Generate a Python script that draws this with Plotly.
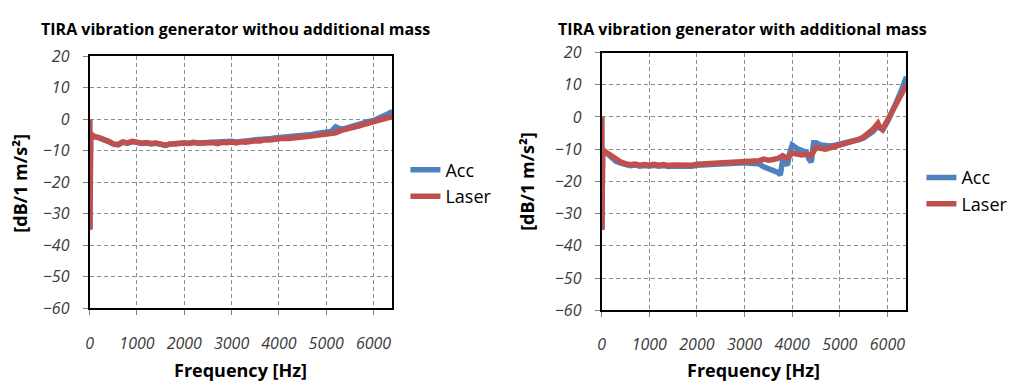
import plotly.graph_objects as go

# ---------------- data ----------------
left_acc_hz = [0, 5, 20, 50, 100, 200, 300, 400, 500, 600, 700, 800, 900, 1000, 1100, 1200, 1300, 1400, 1500,
               1600, 1700, 1800, 1900, 2000, 2100, 2200, 2300, 2400, 2500, 2600, 2700, 2800, 2900, 3000, 3100,
               3200, 3300, 3400, 3500, 3600, 3700, 3800, 3900, 4000, 4100, 4200, 4300, 4400, 4500, 4600, 4700,
               4800, 4900, 5000, 5100, 5200, 5300, 5400, 5500, 5600, 5700, 5800, 5900, 6000, 6100, 6200, 6300, 6400]
left_acc_db = [0, -35, -6, -5, -5.5, -5.9, -6.3, -7.1, -7.9, -8.1, -7.3, -7.6, -7.1, -7.4, -7.7, -7.5, -7.8,
               -7.6, -8.1, -8.3, -7.9, -7.7, -7.8, -7.5, -7.6, -7.3, -7.5, -7.4, -7.4, -7.2, -7.5, -7.1, -7.2,
               -7.0, -7.2, -6.9, -7.0, -6.7, -6.5, -6.5, -6.2, -6.2, -5.9, -5.8, -5.6, -5.6, -5.3, -5.4, -5.1,
               -5.0, -4.8, -4.5, -4.4, -4.1, -3.9, -2.4, -3.1, -2.9, -2.4, -2.1, -1.6, -1.1, -0.7, -0.4, 0.2,
               0.8, 1.7, 2.5]
left_laser_hz = list(left_acc_hz)
left_laser_db = [0, -35, -6, -5, -5.5, -5.8, -6.2, -7.0, -7.8, -8.0, -7.2, -7.5, -7.0, -7.3, -7.6, -7.4, -7.7,
                 -7.5, -7.9, -8.2, -7.8, -7.6, -7.8, -7.5, -7.7, -7.4, -7.6, -7.5, -7.6, -7.4, -7.7, -7.3, -7.4,
                 -7.2, -7.5, -7.1, -7.3, -7.0, -6.8, -6.9, -6.5, -6.6, -6.3, -6.2, -6.0, -6.1, -5.8, -5.9, -5.6,
                 -5.5, -5.3, -5.0, -4.9, -4.6, -4.5, -4.3, -3.6, -3.3, -2.9, -2.6, -2.1, -1.6, -1.2, -1.0, -0.5,
                 -0.1, 0.4, 0.9]

right_acc_hz = [0, 5, 20, 50, 100, 200, 300, 400, 500, 600, 700, 800, 900, 1000, 1100, 1200, 1300, 1400, 1500,
                1600, 1700, 1800, 1900, 2000, 2100, 2200, 2300, 2400, 2500, 2600, 2700, 2800, 2900, 3000, 3100,
                3200, 3300, 3400, 3500, 3600, 3700, 3750, 3800, 3850, 3900, 3950, 4000, 4100, 4200, 4300, 4350,
                4400, 4450, 4500, 4600, 4700, 4800, 4900, 5000, 5100, 5200, 5300, 5400, 5500, 5600, 5700, 5800,
                5900, 6000, 6100, 6200, 6300, 6400]
right_acc_db = [0, -35, -11, -10.5, -11.2, -12.8, -13.8, -14.3, -14.8, -15.1, -14.9, -15.3, -15.1, -15.3, -15.0,
                -15.3, -15.1, -15.4, -15.2, -15.3, -15.1, -15.2, -15.3, -15.0, -14.9, -15.1, -14.8, -14.9, -14.6,
                -14.7, -14.4, -14.5, -14.3, -14.2, -14.4, -14.3, -14.5, -15.5, -16.0, -16.5, -17.2, -18.0, -13.5,
                -14.0, -15.0, -11.0, -8.7, -9.8, -10.5, -11.0, -13.0, -14.0, -8.0, -8.0, -8.7, -9.0, -9.0, -8.8,
                -8.5, -8.2, -7.7, -7.5, -7.0, -6.5, -5.6, -4.5, -2.8, -4.0, -1.5, 1.5, 5.0, 8.5, 12.5]
right_laser_hz = [0, 5, 20, 50, 100, 200, 300, 400, 500, 600, 700, 800, 900, 1000, 1100, 1200, 1300, 1400, 1500,
                  1600, 1700, 1800, 1900, 2000, 2100, 2200, 2300, 2400, 2500, 2600, 2700, 2800, 2900, 3000, 3100,
                  3200, 3300, 3400, 3500, 3600, 3700, 3800, 3900, 4000, 4100, 4200, 4300, 4400, 4500, 4600, 4700,
                  4800, 4900, 5000, 5100, 5200, 5300, 5400, 5500, 5600, 5700, 5800, 5850, 5900, 6000, 6100, 6200,
                  6300, 6400]
right_laser_db = [0, -35, -11, -10.5, -11, -12.5, -13.5, -14, -14.5, -14.8, -14.6, -15, -14.8, -15, -14.7, -15,
                  -14.8, -15.1, -14.9, -15, -14.8, -14.9, -15, -14.7, -14.6, -14.8, -14.5, -14.6, -14.3, -14.4,
                  -14.1, -14.2, -14, -13.8, -13.9, -13.5, -13.6, -13.1, -13.4, -13.2, -12.9, -12.0, -12.8, -11.2,
                  -11.5, -11.8, -11.6, -12.0, -9.5, -9.8, -10.0, -9.6, -9.2, -8.9, -8.5, -8.1, -7.6, -7.0, -6.2,
                  -5.2, -3.8, -2.0, -3.5, -3.8, -1.0, 2.0, 4.5, 7.0, 10.0]

titles = ["TIRA vibration generator withou additional mass", "TIRA vibration generator with additional mass"]
y_title = "[dB/1 m/s²]"
x_title = "Frequency [Hz]"
x_ticks = [0, 1000, 2000, 3000, 4000, 5000, 6000]
y_ticks = [20, 10, 0, -10, -20, -30, -40, -50, -60]
series_names = ["Acc", "Laser"]

# ---------------- styling ----------------
W, H = 1029, 392
BLUE = "#4F81BD"
RED = "#C0504D"
FONT = "'Open Sans', Lato, sans-serif"
LW = 5.5

def px(x):
    return x / W

def py(y):
    return 1 - y / H

fig = go.Figure()

fig.add_trace(go.Scatter(x=left_acc_hz, y=left_acc_db, name=series_names[0], mode="lines",
                         line=dict(color=BLUE, width=LW), xaxis="x", yaxis="y", legend="legend"))
fig.add_trace(go.Scatter(x=left_laser_hz, y=left_laser_db, name=series_names[1], mode="lines",
                         line=dict(color=RED, width=LW), xaxis="x", yaxis="y", legend="legend"))
fig.add_trace(go.Scatter(x=right_acc_hz, y=right_acc_db, name=series_names[0], mode="lines",
                         line=dict(color=BLUE, width=LW), xaxis="x2", yaxis="y2", legend="legend2"))
fig.add_trace(go.Scatter(x=right_laser_hz, y=right_laser_db, name=series_names[1], mode="lines",
                         line=dict(color=RED, width=LW), xaxis="x2", yaxis="y2", legend="legend2"))

axis_common = dict(showline=True, linecolor="black", linewidth=2, mirror=True,
                   showgrid=True, gridcolor="#8c8c8c", griddash="4px,3px", gridwidth=1,
                   ticks="outside", ticklen=5, tickcolor="#808080", zeroline=False,
                   tickfont=dict(family=FONT, size=16, color="#3a3a3a", style="italic"))

xa = dict(axis_common, range=[0, 6400], tickvals=x_ticks, ticklabelstandoff=14)
ya = dict(axis_common, range=[-60, 20], tickvals=y_ticks, ticklabelstandoff=10)

fig.update_layout(
    width=W, height=H,
    margin=dict(l=0, r=0, t=0, b=0),
    paper_bgcolor="white", plot_bgcolor="white",
    font=dict(family=FONT, color="black"),
    xaxis=dict(xa, domain=[px(86), px(390)], anchor="y"),
    yaxis=dict(ya, domain=[py(315), py(48)], anchor="x"),
    xaxis2=dict(xa, domain=[px(600), px(906)], anchor="y2"),
    yaxis2=dict(ya, domain=[py(317), py(44)], anchor="x2"),
    legend=dict(x=px(403), y=py(149), xanchor="left", yanchor="top",
                font=dict(family=FONT, size=18, color="black"), tracegroupgap=0,
                bgcolor="rgba(0,0,0,0)"),
    legend2=dict(x=px(921), y=py(157), xanchor="left", yanchor="top",
                 font=dict(family=FONT, size=18, color="black"), tracegroupgap=0,
                 bgcolor="rgba(0,0,0,0)"),
    showlegend=True,
)

annotations = [
    dict(text="<b>" + titles[0] + "</b>", x=px(35), y=py(19), xanchor="left", yanchor="middle"),
    dict(text="<b>" + titles[1] + "</b>", x=px(554), y=py(19), xanchor="left", yanchor="middle"),
]
for a in annotations:
    a.update(xref="paper", yref="paper", showarrow=False, font=dict(family=FONT, size=16, color="black"))
for xc, yc in [(16, 182), (525, 180)]:
    annotations.append(dict(text="<b>" + y_title + "</b>", x=px(xc), y=py(yc), xref="paper", yref="paper",
                            showarrow=False, textangle=-90, xanchor="center", yanchor="middle",
                            font=dict(family=FONT, size=18, color="black")))
for xc in [237, 752]:
    annotations.append(dict(text="<b>" + x_title + "</b>", x=px(xc), y=py(380), xref="paper", yref="paper",
                            showarrow=False, xanchor="center", yanchor="middle",
                            font=dict(family=FONT, size=18, color="black")))
fig.update_layout(annotations=annotations)

fig.write_html("out.html")
